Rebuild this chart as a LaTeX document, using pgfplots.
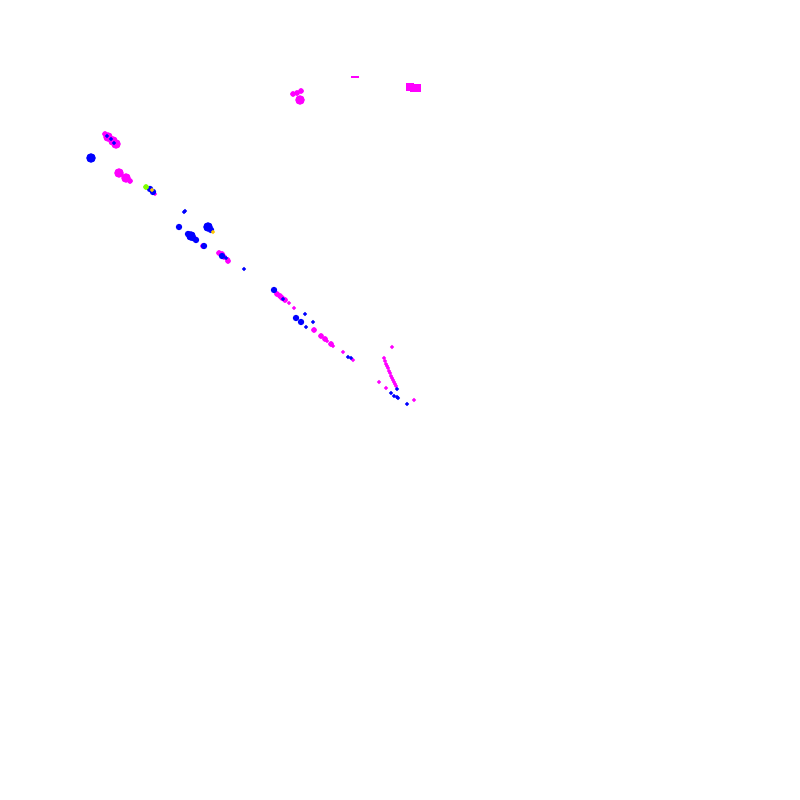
\documentclass[border=0pt]{standalone}
\usepackage{pgfplots}
\pgfplotsset{compat=1.18}
\definecolor{cb}{RGB}{0,0,255}
\definecolor{cm}{RGB}{255,0,255}
\definecolor{cg}{RGB}{128,255,0}
\definecolor{cy}{RGB}{255,200,0}
\begin{document}
\begin{tikzpicture}
\begin{axis}[scale only axis, width=8cm, height=8cm, xmin=0, xmax=800, ymin=0, ymax=800, y dir=reverse, hide axis, clip=false]
\addplot[draw=none, mark=none] coordinates {(0,0) (800,800)};
% large magenta blobs
\addplot[only marks, mark=*, color=cm, mark size=1.15pt] coordinates {
(300,100) (119,173) (126,178) (108,137) (113,141) (116,144)};
% medium magenta
\addplot[only marks, mark=*, color=cm, mark size=0.6pt] coordinates {
(293,94) (297,93) (301,91) (195,239) (203,246) (219,253) (224,257) (228,261)
(277,294) (280,296) (282,298) (285,300) (314,330) (321,336) (325,339)
(331,344) (222,254) (189,234) (130,181) (105,134)};
% blocks
\addplot[only marks, mark=square*, color=cm, mark size=0.9pt] coordinates {(410,87) (414,88) (417,88)};
\addplot[only marks, mark=-, color=cm, mark size=1pt] coordinates {(355,77)};
% small magenta
\addplot[only marks, mark=*, color=cm, mark size=0.3pt] coordinates {
(228,259) (289,303) (294,308) (327,341) (333,346) (343,352) (353,360)
(392,347) (379,382) (386,388) (414,400) (155,194)
(384,358) (385,361) (386,364) (387,366) (388,368) (389,371) (390,373) (391,376)
(392,378) (393,380) (394,382) (395,384) (396,386)};
% large blue
\addplot[only marks, mark=*, color=cb, mark size=1.15pt] coordinates {
(91,158) (208,227) (191,236)};
% medium blue
\addplot[only marks, mark=*, color=cb, mark size=0.7pt] coordinates {
(179,227) (188,234) (193,238) (211,230) (274,290) (296,318) (301,322)
(150,189) (153,192) (196,240) (204,246) (222,256)};
% small blue
\addplot[only marks, mark=*, color=cb, mark size=0.35pt] coordinates {
(184,212) (185,211) (244,269) (283,299) (305,314) (313,322) (306,327)
(348,357) (351,358) (397,389) (391,393) (394,396) (397,397) (398,398) (407,404) (226,258)
(107,136) (111,139) (114,143)};
% green and yellow stripes
\addplot[only marks, mark=*, color=cg, mark size=0.6pt] coordinates {(146,187)};
\addplot[only marks, mark=*, color=cy, mark size=0.35pt] coordinates {(152,190) (213,232)};
\end{axis}
\end{tikzpicture}
\end{document}
